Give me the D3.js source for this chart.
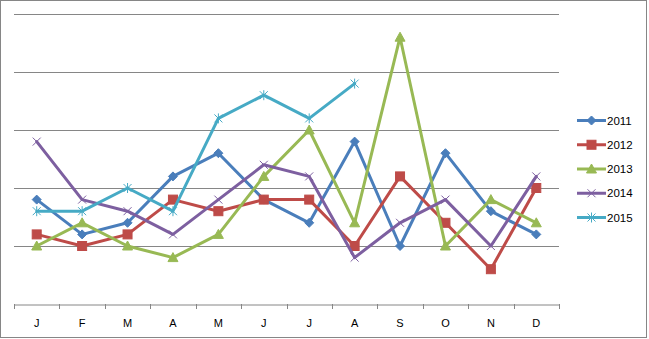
<!DOCTYPE html>
<html>
<head>
<meta charset="utf-8">
<script src="https://cdn.jsdelivr.net/npm/d3@7"></script>
<style>
  html, body { margin: 0; padding: 0; background: #fff; }
  svg { display: block; }
  text { font-family: "Liberation Sans", Arial, sans-serif; fill: #000; }
</style>
</head>
<body>
<script>
// Monthly values per year
const months = ["J", "F", "M", "A", "M", "J", "J", "A", "S", "O", "N", "D"];
const yTicks = [0, 10, 20, 30, 40, 50];

const s2011 = [18, 12, 14, 22, 26, 18, 14, 28, 10, 26, 16, 12];
const s2012 = [12, 10, 12, 18, 16, 18, 18, 10, 22, 14, 6, 20];
const s2013 = [10, 14, 10, 8, 12, 22, 30, 14, 46, 10, 18, 14];
const s2014 = [28, 18, 16, 12, 18, 24, 22, 8, 14, 18, 10, 22];
const s2015 = [16, 16, 20, 16, 32, 36, 32, 38];

const seriesNames = ["2011", "2012", "2013", "2014", "2015"];
const seriesValues = [s2011, s2012, s2013, s2014, s2015];
const seriesColors = ["#4A7EBB", "#BE4B48", "#98B954", "#7D5FA0", "#46AAC5"];
const seriesMarkers = ["diamond", "square", "triangle", "cross", "star"];

const W = 649, H = 339;
const plot = { left: 14, right: 559, top: 14, bottom: 304 };

const svg = d3.select("body").append("svg").attr("width", W).attr("height", H);

// chart frame
svg.append("rect")
  .attr("x", 0.5).attr("y", 0.5).attr("width", 646).attr("height", 337)
  .attr("fill", "#fff").attr("stroke", "#868686").attr("stroke-width", 1);

const x = d3.scaleBand().domain(d3.range(months.length))
  .range([plot.left, plot.right]).paddingInner(0).paddingOuter(0);
const y = d3.scaleLinear().domain([0, 50]).range([plot.bottom, plot.top]);

// horizontal gridlines
svg.append("g").selectAll("line")
  .data(yTicks.filter(t => t > 0))
  .join("line")
  .attr("x1", plot.left).attr("x2", plot.right)
  .attr("y1", d => Math.round(y(d)) + 0.5).attr("y2", d => Math.round(y(d)) + 0.5)
  .attr("stroke", "#868686").attr("stroke-width", 1);

// category axis
const xAxis = d3.axisBottom(x).tickSize(0).tickFormat(i => months[i]);
const gx = svg.append("g").attr("transform", `translate(0,${plot.bottom + 0.5})`).call(xAxis);
gx.select(".domain").attr("stroke", "#868686");
gx.selectAll("text").attr("font-size", 11).attr("dy", 0).attr("y", 22)
  .style("font-family", "Liberation Sans, Arial, sans-serif");
// tick marks between categories
svg.append("g").selectAll("line")
  .data(d3.range(months.length + 1))
  .join("line")
  .attr("x1", i => Math.round(plot.left + i * x.bandwidth()) + 0.5)
  .attr("x2", i => Math.round(plot.left + i * x.bandwidth()) + 0.5)
  .attr("y1", plot.bottom).attr("y2", plot.bottom + 5)
  .attr("stroke", "#868686").attr("stroke-width", 1);

const cx = i => x(i) + x.bandwidth() / 2;

function drawMarker(g, type, color, px, py) {
  const s = 4.5;
  if (type === "diamond") {
    g.append("path").attr("d", `M${px},${py - s}L${px + s},${py}L${px},${py + s}L${px - s},${py}Z`)
      .attr("fill", color).attr("stroke", color).attr("stroke-width", 1);
  } else if (type === "square") {
    g.append("rect").attr("x", px - 4.5).attr("y", py - 4.5).attr("width", 9).attr("height", 9)
      .attr("fill", color).attr("stroke", color).attr("stroke-width", 1);
  } else if (type === "triangle") {
    g.append("path").attr("d", `M${px},${py - 5}L${px + 5},${py + 4}L${px - 5},${py + 4}Z`)
      .attr("fill", color).attr("stroke", color).attr("stroke-width", 1);
  } else if (type === "cross") {
    g.append("path").attr("d", `M${px - 4},${py - 4}L${px + 4},${py + 4}M${px - 4},${py + 4}L${px + 4},${py - 4}`)
      .attr("fill", "none").attr("stroke", color).attr("stroke-width", 1);
  } else if (type === "star") {
    g.append("path").attr("d", `M${px - 4},${py - 4}L${px + 4},${py + 4}M${px - 4},${py + 4}L${px + 4},${py - 4}M${px},${py - 5}L${px},${py + 5}`)
      .attr("fill", "none").attr("stroke", color).attr("stroke-width", 1);
  }
}

const line = d3.line().x((d, i) => cx(i)).y(d => y(d));

seriesValues.forEach((vals, k) => {
  const g = svg.append("g");
  g.append("path").datum(vals).attr("d", line)
    .attr("fill", "none").attr("stroke", seriesColors[k])
    .attr("stroke-width", 3).attr("stroke-linejoin", "round").attr("stroke-linecap", "round");
  vals.forEach((v, i) => drawMarker(g, seriesMarkers[k], seriesColors[k], cx(i), y(v)));
});

// legend
const legendY = d3.scalePoint().domain(seriesNames).range([120.5, 217.5]);
const lg = svg.append("g");
seriesNames.forEach((name, k) => {
  const ly = legendY(name);
  lg.append("line").attr("x1", 577).attr("x2", 606).attr("y1", ly).attr("y2", ly)
    .attr("stroke", seriesColors[k]).attr("stroke-width", 3);
  drawMarker(lg, seriesMarkers[k], seriesColors[k], 591.5, ly);
  lg.append("text").attr("x", 607).attr("y", ly + 4).attr("font-size", 11.5).text(name);
});
</script>
</body>
</html>
